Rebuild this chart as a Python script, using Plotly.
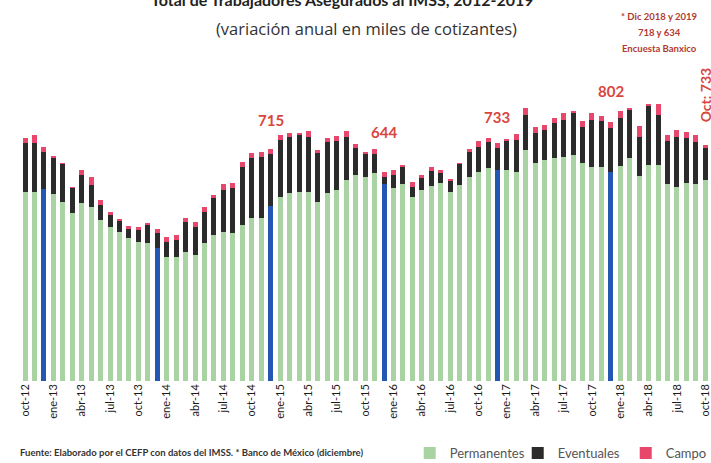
import plotly.graph_objects as go

# etiquetas mensuales oct-12 .. oct-18
meses_abr = ["ene", "feb", "mar", "abr", "may", "jun", "jul", "ago", "sep", "oct", "nov", "dic"]
meses = []
for anio in range(2012, 2019):
    for m in range(12):
        if (anio == 2012 and m < 9) or (anio == 2018 and m > 9):
            continue
        meses.append(meses_abr[m] + "-" + str(anio)[2:])

# variación anual en miles de cotizantes
permanentes = [585, 585, 594, 579, 554, 520, 551, 539, 498, 477, 461, 443, 430, 427, 412, 384,
               384, 399, 390, 427, 452, 461, 458, 483, 505, 505, 542, 570, 582, 585, 585, 554,
               582, 591, 622, 638, 632, 644, 610, 598, 610, 570, 591, 604, 613, 585, 607, 632,
               647, 659, 653, 653, 647, 715, 675, 684, 690, 694, 700, 675, 663, 663, 647, 666,
               690, 635, 669, 669, 610, 601, 613, 610, 622]
eventuales = [152, 152, 115, 114, 118, 78, 87, 68, 47, 37, 34, 28, 37, 59, 46, 46,
              53, 93, 87, 96, 115, 130, 140, 180, 185, 189, 161, 176, 173, 177, 170, 152,
              158, 152, 133, 83, 74, 59, 22, 40, 53, 31, 38, 46, 34, 37, 65, 77,
              77, 81, 68, 93, 99, 109, 93, 93, 109, 114, 130, 111, 145, 142, 136, 148,
              152, 120, 185, 155, 133, 154, 139, 130, 99]
campo = [15, 25, 15, 4, 3, 2, 15, 25, 15, 9, 7, 9, 10, 3, 13, 16,
         15, 13, 15, 16, 9, 19, 15, 15, 16, 15, 15, 16, 13, 4, 19, 9,
         12, 16, 19, 13, 3, 15, 15, 15, 3, 15, 9, 13, 6, 2, 3, 9,
         19, 12, 16, 3, 19, 21, 18, 16, 15, 22, 4, 19, 22, 15, 19, 22,
         4, 34, 4, 34, 19, 22, 19, 22, 10]

etiquetas_dic = ["dic-14", "dic-15", "dic-16", "dic-17"]
valores_dic = ["715", "644", "733", "802"]
altura_dic = [808, 771, 817, 898]

verde = "#a9d3a2"
azul = "#2456b4"
rojo = "#e8466a"
colores_perm = [azul if m.startswith("dic") else verde for m in meses]

fig = go.Figure()
fig.add_trace(go.Bar(x=meses, y=permanentes, name="Permanentes",
                     marker=dict(color=colores_perm, line_width=0)))
fig.add_trace(go.Bar(x=meses, y=eventuales, name="Eventuales",
                     marker=dict(color="#2b2b2b", line_width=0)))
fig.add_trace(go.Bar(x=meses, y=campo, name="Campo",
                     marker=dict(color=rojo, line_width=0)))

for et, txt, h in zip(etiquetas_dic, valores_dic, altura_dic):
    fig.add_annotation(x=et, y=h, text="<b>" + txt + "</b>", showarrow=False,
                       xanchor="center", yanchor="middle",
                       font=dict(size=15, color="#d9463e", family="Lato"))

fig.add_annotation(x=0.992, y=0.839, xref="paper", yref="paper", text="<b>Oct: 733</b>",
                   textangle=-90, showarrow=False, xanchor="center", yanchor="middle",
                   font=dict(size=14, color="#d9463e", family="Lato"))

# títulos
fig.add_annotation(x=0.467, y=1.118, xref="paper", yref="paper",
                   text="<b>Total de Trabajadores Asegurados al IMSS, 2012-2019</b>",
                   showarrow=False, xanchor="center", yanchor="middle",
                   font=dict(size=16, color="#222", family="Lato"))
fig.add_annotation(x=0.502, y=1.035, xref="paper", yref="paper",
                   text="(variación anual en miles de cotizantes)",
                   showarrow=False, xanchor="center", yanchor="middle",
                   font=dict(size=16.5, color="#333", family="Open Sans"))

notas = ["* Dic 2018 y 2019", "718 y 634", "Encuesta Banxico"]
for i, n in enumerate(notas):
    fig.add_annotation(x=0.926, y=1.070 - i * 0.048, xref="paper", yref="paper",
                       text="<b>" + n + "</b>", showarrow=False,
                       xanchor="center", yanchor="middle",
                       font=dict(size=9.5, color="#b03a30", family="Lato"))

fig.add_annotation(x=-0.003, y=-0.211, xref="paper", yref="paper",
                   xanchor="left", yanchor="middle",
                   text="<b>Fuente: Elaborado por el CEFP con datos del IMSS. * Banco de México (diciembre)</b>",
                   showarrow=False, font=dict(size=9.5, color="#333", family="Lato"))

fig.update_layout(
    barmode="stack",
    bargap=0.47,
    width=711,
    height=463,
    margin=dict(l=20, r=0, t=40, b=82, autoexpand=False),
    plot_bgcolor="white",
    paper_bgcolor="white",
    font=dict(family="Lato"),
    legend=dict(orientation="h", x=0.564, y=-0.211, xanchor="left", yanchor="middle",
                traceorder="normal", font=dict(size=13, color="#555"),
                itemwidth=30, entrywidth=63, entrywidthmode="pixels"),
    xaxis=dict(range=[-0.53, 72.6], tickangle=-90, automargin=False,
               tickvals=meses[::3], ticktext=meses[::3],
               tickfont=dict(size=11, color="#1a1a1a"), showline=False, ticks=""),
    yaxis=dict(range=[0, 1056], visible=False),
)

# sin margen en la página para que la figura ocupe la ventana completa
fig.write_html("out.html", config={"displayModeBar": False},
               post_script="document.body.style.margin='0';document.body.style.overflow='hidden';")
